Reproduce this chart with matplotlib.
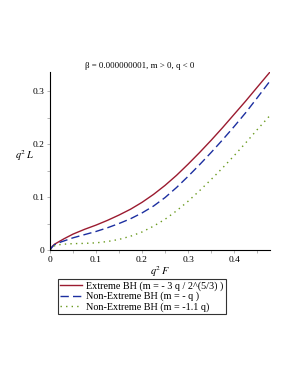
import matplotlib.pyplot as plt

plt.rcParams['font.family'] = ['Liberation Serif', 'DejaVu Serif']
plt.rcParams['mathtext.fontset'] = 'stix'

x = [0.0, 0.005, 0.01, 0.02, 0.03, 0.05, 0.075, 0.1, 0.125, 0.15, 0.175, 0.2,
     0.225, 0.25, 0.275, 0.3, 0.325, 0.35, 0.375, 0.4, 0.425, 0.45, 0.478]
y_ext = [0.0, 0.007, 0.011, 0.016, 0.021, 0.030, 0.039, 0.047, 0.056, 0.066, 0.077, 0.090,
         0.105, 0.122, 0.141, 0.162, 0.184, 0.207, 0.231, 0.256, 0.281, 0.307, 0.336]
y_ne1 = [0.0, 0.006, 0.010, 0.014, 0.017, 0.023, 0.029, 0.035, 0.042, 0.050, 0.059, 0.070,
         0.083, 0.099, 0.118, 0.139, 0.161, 0.184, 0.208, 0.233, 0.259, 0.287, 0.319]
y_ne2 = [0.0, 0.005, 0.008, 0.010, 0.011, 0.012, 0.0125, 0.0135, 0.016, 0.020, 0.026, 0.034,
         0.045, 0.058, 0.074, 0.092, 0.112, 0.133, 0.155, 0.178, 0.202, 0.227, 0.254]

labels = ["Extreme BH (m = - 3 q / 2^(5/3) )",
          "Non-Extreme BH (m = - q )",
          "Non-Extreme BH (m = -1.1 q)"]

fig = plt.figure(figsize=(2.91, 3.76), dpi=100)
ax = fig.add_axes([50 / 291, 1 - 250 / 376, 220 / 291, 178 / 376])

ax.plot(x, y_ext, color="#9b1b30", lw=1.0, label=labels[0])
ax.plot(x, y_ne1, color="#1c2fa0", lw=1.0, ls=(0, (6, 3)), label=labels[1])
ax.plot(x, y_ne2, color="#6a9a1f", lw=1.0, ls=(0, (1, 3)), label=labels[2])

ax.set_xlim(0, 0.478)
ax.set_ylim(0, 0.336)
ax.set_xticks([0, 0.1, 0.2, 0.3, 0.4])
ax.set_xticklabels(["0", "0.1", "0.2", "0.3", "0.4"])
ax.set_xticks([0.05, 0.15, 0.25, 0.35, 0.45], minor=True)
ax.set_yticks([0, 0.1, 0.2, 0.3])
ax.set_yticklabels(["0", "0.1", "0.2", "0.3"])
ax.set_yticks([0.05, 0.15, 0.25], minor=True)
ax.tick_params(which="both", labelsize=6.8, length=2, width=0.5, color="#999999", pad=2)
for s in ["top", "right"]:
    ax.spines[s].set_visible(False)
for s in ["left", "bottom"]:
    ax.spines[s].set_linewidth(0.8)

ax.set_xlabel("$q^2\\,F$", fontsize=7.5)
ax.xaxis.set_label_coords(0.5, -14 / 178)
ax.set_ylabel("$q^2\\,L$", fontsize=7.5, rotation=0)
ax.yaxis.set_label_coords(-25 / 220, 0.49)

fig.text(140 / 291, 1 - 66 / 376, "β = 0.000000001, m > 0, q < 0",
         fontsize=6.3, ha="center", va="center")

leg = fig.legend(loc="upper left", bbox_to_anchor=(58 / 291, 1 - 279 / 376),
                 fontsize=7.3, frameon=True, fancybox=False, handlelength=2.2,
                 borderpad=0.2, labelspacing=0.12, handletextpad=0.4,
                 borderaxespad=0)
leg.get_frame().set_edgecolor("black")
leg.get_frame().set_linewidth(0.8)

fig.savefig("out.png", dpi=100)
